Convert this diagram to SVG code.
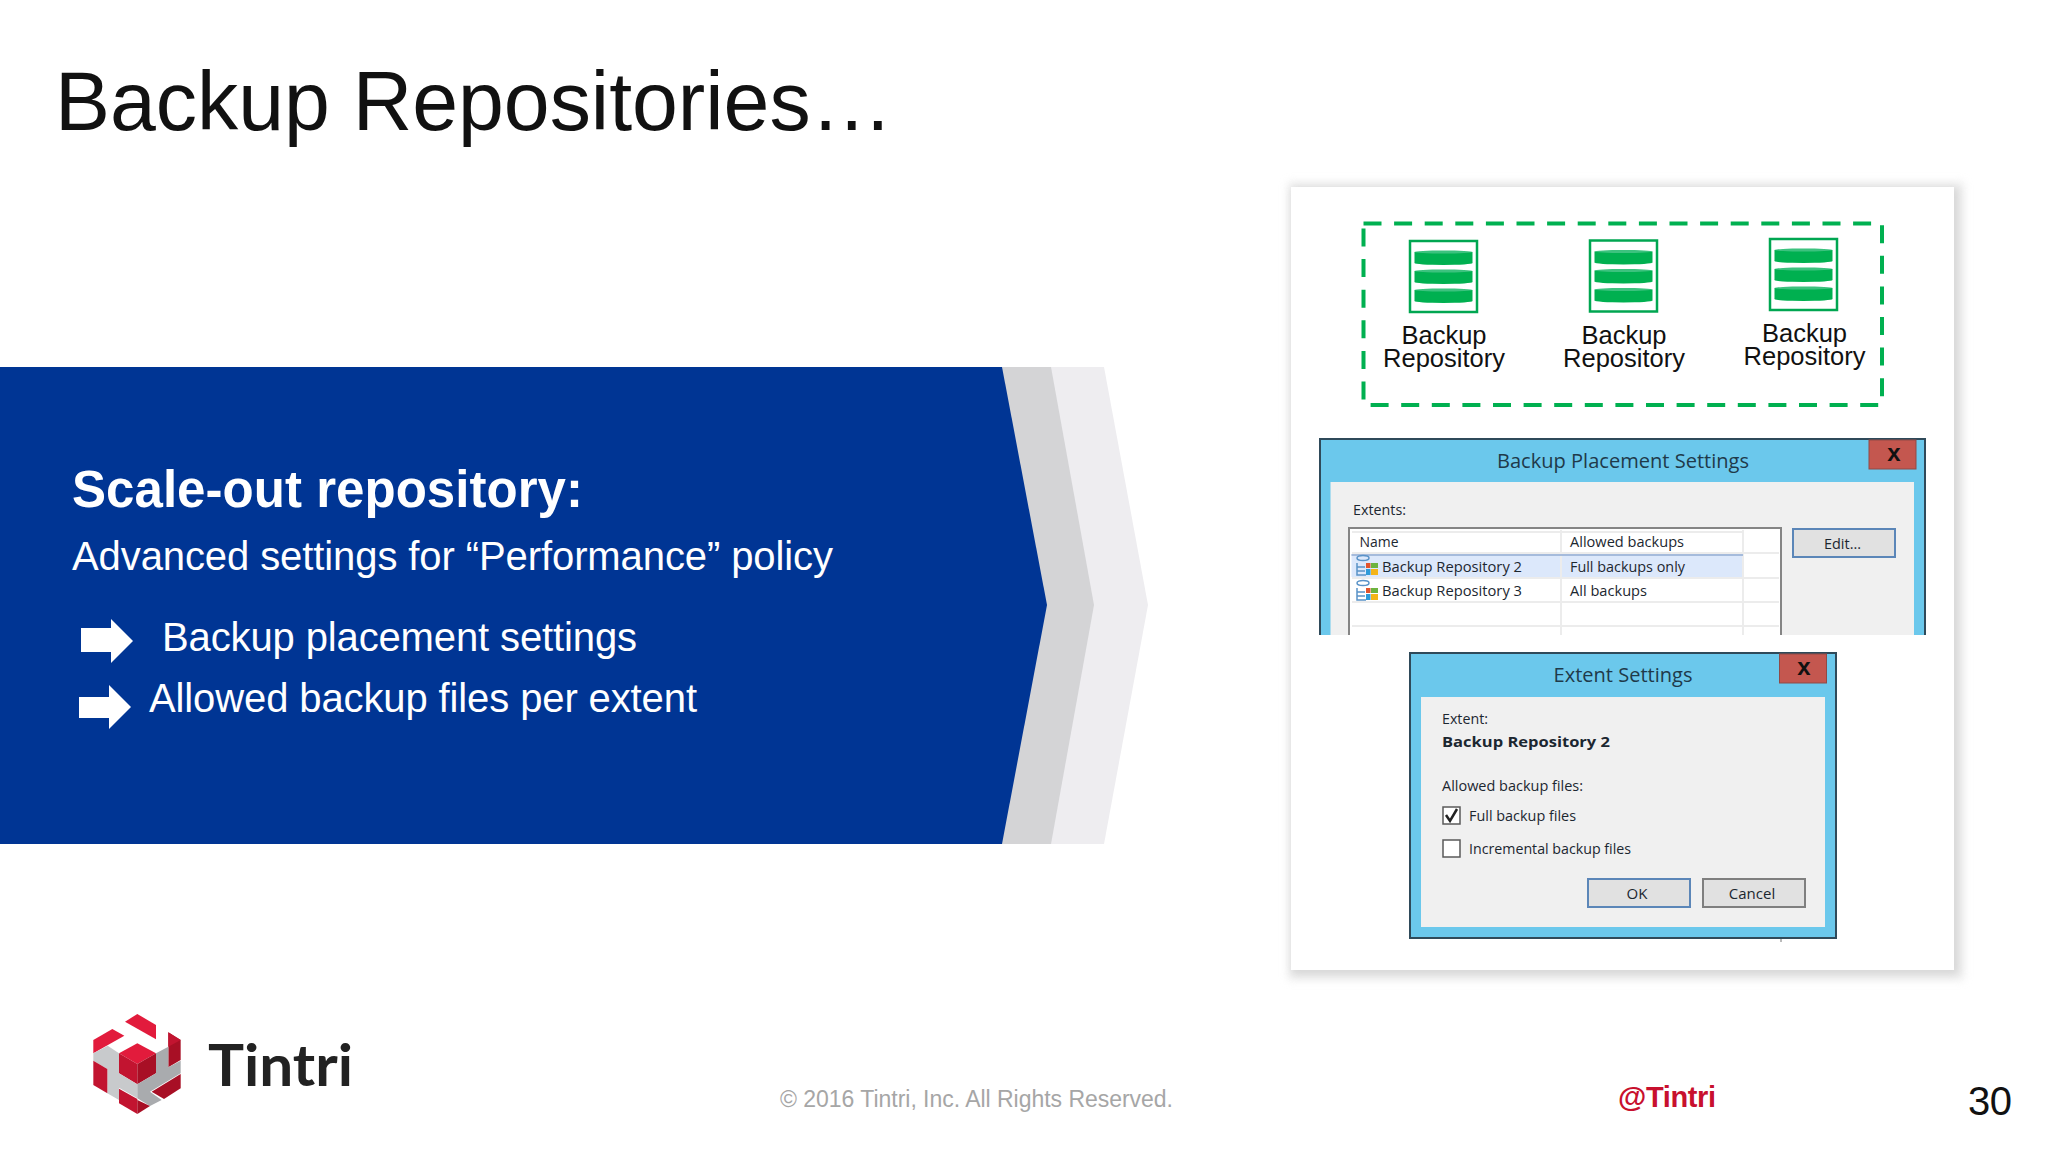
<svg xmlns="http://www.w3.org/2000/svg" width="2048" height="1152" viewBox="0 0 2048 1152">
<style>
text{font-family:"Liberation Sans",Arial,sans-serif}
.w{fill:#fff}
.ui{font-family:"Open Sans","Noto Sans",sans-serif;fill:#1c2730;font-size:15px}
.ttl{font-family:"Open Sans","Noto Sans",sans-serif;fill:#1f3a4a;font-size:20px;text-anchor:middle}
.lab{font-size:25.5px;fill:#111;text-anchor:middle}
.box{fill:#fff;stroke:#00a651;stroke-width:2.5}
.disc{fill:#00b050}
.top{fill:#3cc27e}
.dlg{fill:#6bc8ec;stroke:#2f4a5a;stroke-width:2}
.body{fill:#f0f0f0}
.cls{fill:#c4574f;stroke:#8f4a46;stroke-width:1}
.x{font-family:"Liberation Sans",sans-serif;font-weight:bold;font-size:24px;fill:#111;text-anchor:middle}
.btn{fill:#e1e1e1;stroke:#5b86b8;stroke-width:2}
.btn2{fill:#e1e1e1;stroke:#7f7f7f;stroke-width:2}
.rl{stroke:#ececec;stroke-width:2}
.chk{fill:#fff;stroke:#5a5a5a;stroke-width:1.5}
.r1{fill:#e21b3c}.r2{fill:#c21430}.r3{fill:#a80f25}.g1{fill:#c8cacc}.g2{fill:#a9abae}
</style>
<defs>
<filter id="sh" x="-5%" y="-5%" width="110%" height="110%"><feGaussianBlur stdDeviation="4"/></filter>
<g id="repo">
<rect class="box" x="0" y="0" width="67" height="71"/>
<rect class="disc" x="4.500" y="11" width="58" height="11"/><ellipse class="disc" cx="33.500" cy="22" rx="29" ry="2"/><ellipse class="top" cx="33.500" cy="11" rx="29" ry="1.500"/>
<rect class="disc" x="4.500" y="30" width="58" height="11"/><ellipse class="disc" cx="33.500" cy="41" rx="29" ry="2"/><ellipse class="top" cx="33.500" cy="30" rx="29" ry="1.500"/>
<rect class="disc" x="4.500" y="49" width="58" height="11"/><ellipse class="disc" cx="33.500" cy="60" rx="29" ry="2"/><ellipse class="top" cx="33.500" cy="49" rx="29" ry="1.500"/>
</g>
<g id="mini">
<g fill="none" stroke="#5a93c8" stroke-width="1.500"><ellipse cx="8" cy="3" rx="6" ry="2.500"/><path d="M2 8v12h9M2 12h8M2 16h8"/></g>
<rect x="11" y="8" width="4.500" height="5" fill="#e2532c"/><rect x="16" y="8" width="7" height="5" fill="#6cb33f"/><rect x="11" y="14" width="4.500" height="6" fill="#2e9ad9"/><rect x="16" y="14" width="7" height="6" fill="#f4b417"/>
</g>
</defs>
<rect width="2048" height="1152" fill="#fff"/>
<text id="title" x="55" y="130" font-size="82.500" fill="#111" textLength="838" lengthAdjust="spacingAndGlyphs">Backup Repositories…</text>
<g id="banner">
<path d="M1104 367L1148 605L1104 844H1000V367Z" fill="#eeedf0"/>
<path d="M1051 367L1094 605L1051 844H950V367Z" fill="#d4d4d6"/>
<path d="M0 367H1002L1047 605L1002 844H0Z" fill="#003594"/>
<text class="w" x="72" y="507" font-size="51" font-weight="bold" textLength="511">Scale-out repository:</text>
<text class="w" x="72" y="570" font-size="40" textLength="761">Advanced settings for “Performance” policy</text>
<text class="w" x="162" y="651" font-size="40" textLength="475">Backup placement settings</text>
<text class="w" x="149" y="712" font-size="40" textLength="548">Allowed backup files per extent</text>
<path class="w" d="M81 628H111V619L133 641L111 663V652H81Z"/>
<path class="w" d="M79 697H109V685L131 707L109 729V718H79Z"/>
</g>
<g id="panel">
<rect x="1288" y="182" width="676" height="798" fill="#dcdcdc" opacity=".5" filter="url(#sh)"/>
<rect x="1292" y="188" width="666" height="786" fill="#c4c4c4" opacity=".6" filter="url(#sh)"/>
<rect x="1291" y="187" width="663" height="783" fill="#fff"/>
</g>
<g id="repositories">
<rect x="1363.500" y="223.500" width="518.500" height="181.500" fill="none" stroke="#00b050" stroke-width="4" stroke-dasharray="18 12.600"/>
<g id="repo-1"><use href="#repo" x="1410" y="241"/><text class="lab" x="1444" y="344">Backup</text><text class="lab" x="1444" y="367">Repository</text></g>
<g id="repo-2"><use href="#repo" x="1590" y="240.500"/><text class="lab" x="1624" y="343.500">Backup</text><text class="lab" x="1624" y="366.500">Repository</text></g>
<g id="repo-3"><use href="#repo" x="1770" y="239"/><text class="lab" x="1804.500" y="342">Backup</text><text class="lab" x="1804.500" y="365">Repository</text></g>
</g>
<g id="placement-dialog">
<path class="dlg" d="M1320 635V439H1925V635"/>
<path class="body" d="M1330.500 635V482H1914V635Z"/>
<rect class="cls" x="1869" y="440" width="47" height="29"/>
<text class="x" x="1894" y="461">x</text>
<text class="ttl" x="1623" y="468" textLength="252" lengthAdjust="spacingAndGlyphs">Backup Placement Settings</text>
<text class="ui" x="1353" y="515" textLength="53" lengthAdjust="spacingAndGlyphs">Extents:</text>
<path d="M1349 635V528H1781V635Z" fill="#fff"/><path d="M1349 635V528H1781V635" fill="none" stroke="#858585" stroke-width="2"/>
<rect x="1351.500" y="554" width="391.500" height="23" fill="#dce8fb"/>
<path d="M1743 554V577" stroke="#b5c8e6" stroke-width="1.500"/>
<path class="rl" d="M1352 532H1743M1352 553H1779M1352 578H1779M1352 602H1779M1352 626H1779M1561 530V635M1743 530V635"/>
<rect x="1351.500" y="554" width="391.500" height="2" fill="#a5bbdc"/>
<text class="ui" x="1359.500" y="547" textLength="39" lengthAdjust="spacingAndGlyphs">Name</text>
<text class="ui" x="1570" y="547" textLength="114" lengthAdjust="spacingAndGlyphs">Allowed backups</text>
<use href="#mini" x="1355" y="555"/>
<text class="ui" x="1382" y="572" textLength="140" lengthAdjust="spacingAndGlyphs">Backup Repository 2</text>
<text class="ui" x="1570" y="572" textLength="115" lengthAdjust="spacingAndGlyphs">Full backups only</text>
<use href="#mini" x="1355" y="580"/>
<text class="ui" x="1382" y="596" textLength="140" lengthAdjust="spacingAndGlyphs">Backup Repository 3</text>
<text class="ui" x="1570" y="596" textLength="77" lengthAdjust="spacingAndGlyphs">All backups</text>
<rect class="btn" x="1793" y="529" width="102" height="28"/>
<text class="ui" x="1824" y="549" textLength="37" lengthAdjust="spacingAndGlyphs">Edit...</text>
</g>
<g id="extent-dialog">
<path d="M1781 938V942" stroke="#777" stroke-width="1"/>
<rect class="dlg" x="1410" y="653" width="426" height="285"/>
<rect class="body" x="1421" y="697" width="404" height="230"/>
<rect class="cls" x="1779.500" y="654" width="47" height="29"/>
<text class="x" x="1804" y="675">x</text>
<text class="ttl" x="1623" y="682" textLength="139" lengthAdjust="spacingAndGlyphs">Extent Settings</text>
<text class="ui" x="1442" y="724" textLength="46" lengthAdjust="spacingAndGlyphs">Extent:</text>
<text class="ui" x="1442" y="747" font-weight="bold" textLength="168" lengthAdjust="spacingAndGlyphs">Backup Repository 2</text>
<text class="ui" x="1442" y="791" textLength="141" lengthAdjust="spacingAndGlyphs">Allowed backup files:</text>
<rect class="chk" x="1443" y="807" width="17" height="17"/>
<path d="M1446 815L1450 821L1457 809" fill="none" stroke="#222" stroke-width="2.500"/>
<text class="ui" x="1469" y="821" textLength="107" lengthAdjust="spacingAndGlyphs">Full backup files</text>
<rect class="chk" x="1443" y="840" width="17" height="17"/>
<text class="ui" x="1469" y="854" textLength="162" lengthAdjust="spacingAndGlyphs">Incremental backup files</text>
<rect class="btn" x="1588" y="879" width="102" height="28"/>
<text class="ui" x="1637" y="899" text-anchor="middle">OK</text>
<rect class="btn2" x="1703" y="879" width="102" height="28"/>
<text class="ui" x="1752" y="899" text-anchor="middle">Cancel</text>
</g>
<g id="logo">
<g transform="translate(60 990) scale(.33333)">
<path class="r1" d="M195 95L232 72L288 105V148Z"/>
<path class="r1" d="M100 150L157 117L193 137L100 190Z"/>
<path class="r3" d="M325 127L362 150V210L325 232Z"/>
<path class="r2" d="M325 127L362 150L325 170Z"/>
<path class="r1" d="M232 160L177 190L232 222L288 190Z"/>
<path class="r2" d="M177 190L232 222V283L177 250Z"/>
<path class="r3" d="M232 222L288 190V250L232 283Z"/>
<path class="g1" d="M100 190L143 167L177 190V250L232 283V325L177 293V330L142 310V237L100 212Z"/>
<path class="g2" d="M232 283L288 250V190L325 170V232L362 212V250L270 305L305 330L270 348L232 325Z"/>
<path class="r2" d="M100 212L142 237V310L100 285Z"/>
<path class="r2" d="M177 296L232 327V372L177 340Z"/>
<path class="r3" d="M232 330L270 348L232 372Z"/>
<path class="r3" d="M275 305L362 252V295L312 327Z"/>
</g>
<text x="208" y="1086" font-size="57" fill="#222" style="font-family:'Lato','Noto Sans',sans-serif" font-weight="700" textLength="145" lengthAdjust="spacingAndGlyphs">Tintri</text>
</g>
<g id="footer">
<text x="780" y="1107" font-size="23" fill="#a6a6a6" textLength="393">© 2016 Tintri, Inc. All Rights Reserved.</text>
<text x="1618" y="1107" font-size="29" font-weight="bold" fill="#c8102e" textLength="98">@Tintri</text>
<text x="1968" y="1115" font-size="40" fill="#111" textLength="44">30</text>
</g>
</svg>
